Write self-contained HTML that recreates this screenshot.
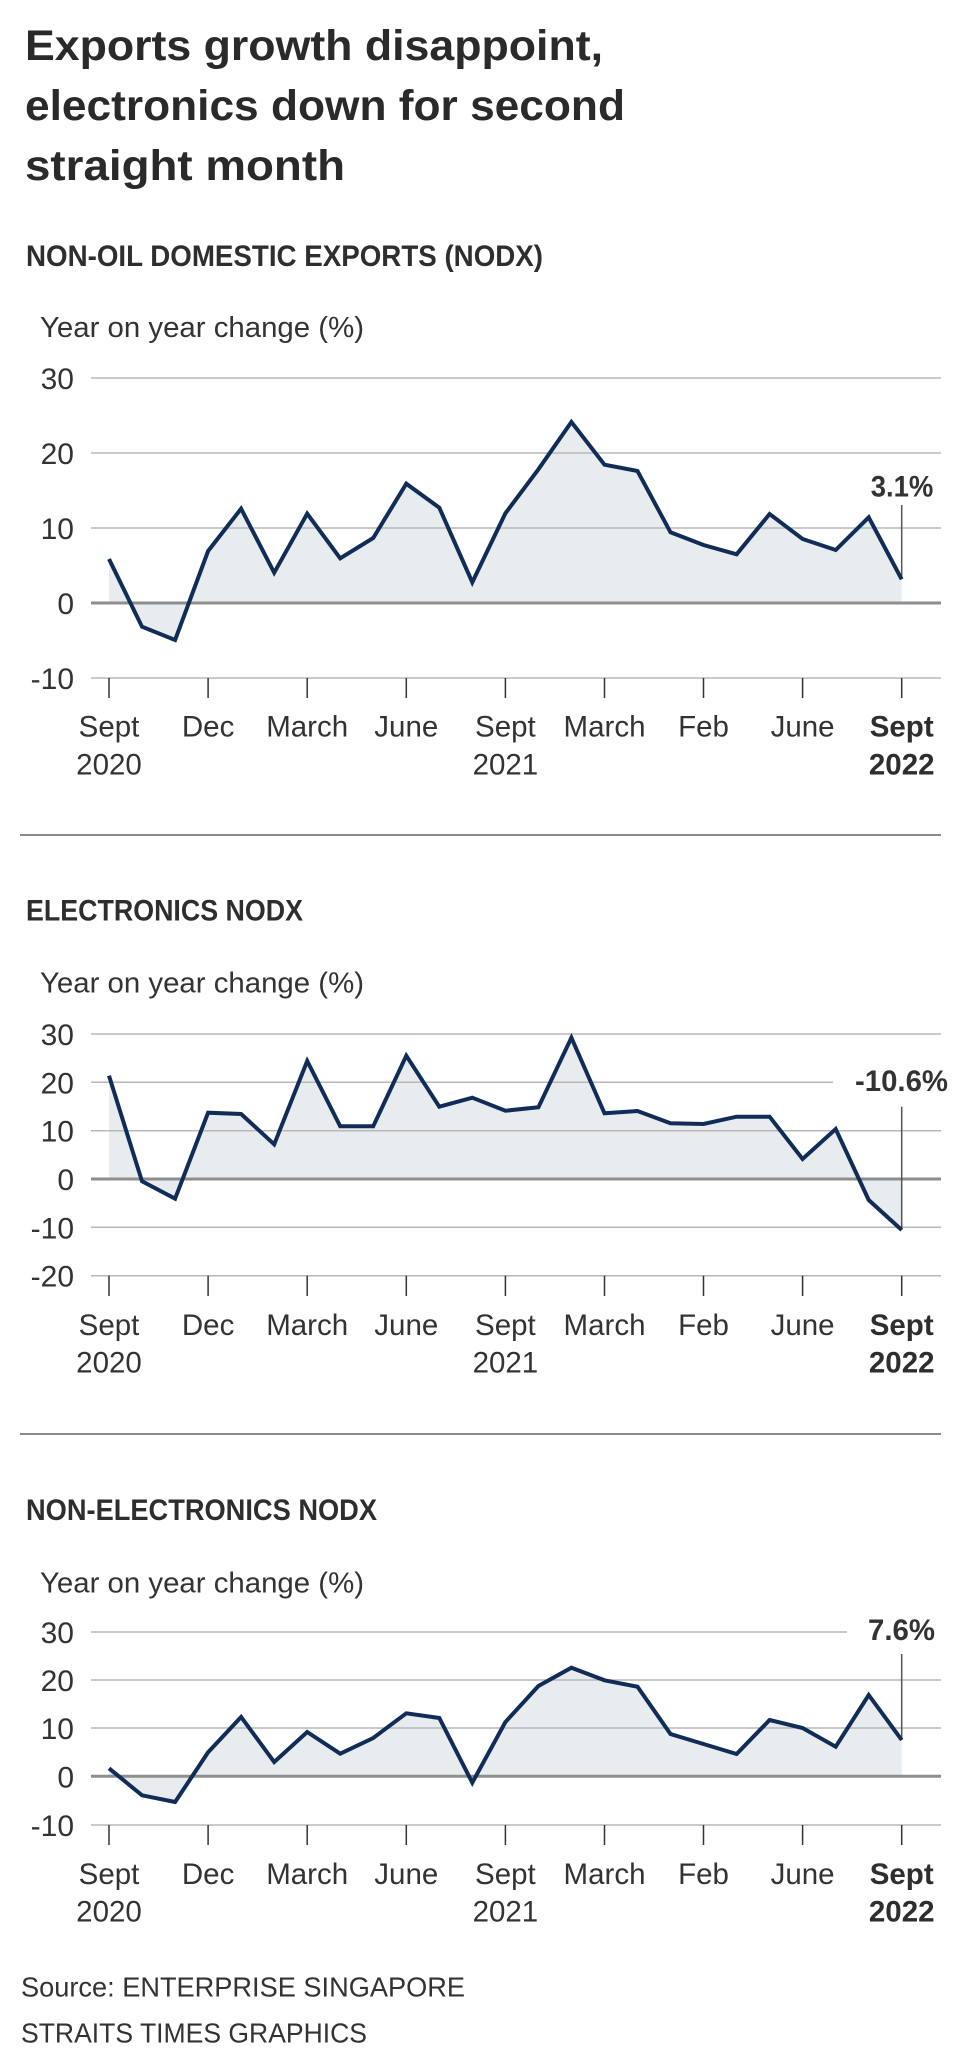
<!DOCTYPE html>
<html>
<head>
<meta charset="utf-8">
<style>
  html,body{margin:0;padding:0;background:#fff;}
  svg{display:block;}
  text{font-family:"Liberation Sans", Arial, sans-serif;fill:#333;}
  .t{font-weight:bold;font-size:43px;fill:#2a2a2a;}
  .h{font-weight:bold;font-size:30px;fill:#2e2e2e;}
  .yl{font-size:29px;fill:#333;}
  .lab{font-size:30px;fill:#333;text-anchor:end;}
  .xl{font-size:29.5px;fill:#333;text-anchor:middle;}
  .xb{font-size:29.5px;fill:#2e2e2e;text-anchor:middle;font-weight:bold;}
  .ann{font-size:30px;font-weight:bold;fill:#333;}
  .foot{font-size:28px;fill:#333;}
  .g{stroke:#b8b8b8;stroke-width:1.5;}
  .z{stroke:#8e8e8e;stroke-width:3;}
  .tk{stroke:#333;stroke-width:1.5;}
  .fill{fill:#e8ecee;stroke:none;}
  .ln{fill:none;stroke:#102c57;stroke-width:4;stroke-linejoin:miter;stroke-miterlimit:6;}
  .al{stroke:#555;stroke-width:1.5;}
  .div{stroke:#8a8a8a;stroke-width:2;}
</style>
</head>
<body>
<svg width="960" height="2070" viewBox="0 0 960 2070" xmlns="http://www.w3.org/2000/svg">
  <rect x="0" y="0" width="960" height="2070" fill="#fff"/>

  <!-- Title -->
  <text class="t" x="25" y="60" textLength="578" lengthAdjust="spacingAndGlyphs">Exports growth disappoint,</text>
  <text class="t" x="25" y="120" textLength="600" lengthAdjust="spacingAndGlyphs">electronics down for second</text>
  <text class="t" x="25" y="180" textLength="320" lengthAdjust="spacingAndGlyphs">straight month</text>

  <!-- ============ CHART 1 ============ -->
  <text class="h" x="26" y="266" textLength="517" lengthAdjust="spacingAndGlyphs">NON-OIL DOMESTIC EXPORTS (NODX)</text>
  <text class="yl" x="40" y="337" textLength="324" lengthAdjust="spacingAndGlyphs">Year on year change (%)</text>

  <polygon class="fill" points="109,602.7 109,559 142,626.7 175.1,640 208.1,551 241.1,508.7 274.2,572.7 307.2,513.7 340.2,558.3 373.2,538 406.3,483.7 439.3,507.7 472.3,582.3 505.4,513.3 538.4,469.3 571.4,422 604.5,464.7 637.5,471 670.5,532.3 703.5,545 736.6,554.3 769.6,514 802.6,539 835.7,550 868.7,517.3 901.7,579.3 901.7,602.7"/>

  <line class="g" x1="91" y1="378" x2="941" y2="378"/>
  <line class="g" x1="91" y1="453" x2="941" y2="453"/>
  <line class="g" x1="91" y1="528" x2="941" y2="528"/>
  <line class="g" x1="91" y1="678" x2="941" y2="678"/>
  <line class="z" x1="91" y1="603" x2="941" y2="603"/>

  <text class="lab" x="74" y="389">30</text>
  <text class="lab" x="74" y="464">20</text>
  <text class="lab" x="74" y="539">10</text>
  <text class="lab" x="74" y="614">0</text>
  <text class="lab" x="74" y="689">-10</text>

  <g class="tk">
    <line x1="109" y1="678" x2="109" y2="698"/>
    <line x1="208.1" y1="678" x2="208.1" y2="698"/>
    <line x1="307.2" y1="678" x2="307.2" y2="698"/>
    <line x1="406.3" y1="678" x2="406.3" y2="698"/>
    <line x1="505.4" y1="678" x2="505.4" y2="698"/>
    <line x1="604.5" y1="678" x2="604.5" y2="698"/>
    <line x1="703.5" y1="678" x2="703.5" y2="698"/>
    <line x1="802.6" y1="678" x2="802.6" y2="698"/>
    <line x1="901.7" y1="678" x2="901.7" y2="698"/>
  </g>

  <line class="al" x1="901.7" y1="505" x2="901.7" y2="579"/>
  <polyline class="ln" points="109,559 142,626.7 175.1,640 208.1,551 241.1,508.7 274.2,572.7 307.2,513.7 340.2,558.3 373.2,538 406.3,483.7 439.3,507.7 472.3,582.3 505.4,513.3 538.4,469.3 571.4,422 604.5,464.7 637.5,471 670.5,532.3 703.5,545 736.6,554.3 769.6,514 802.6,539 835.7,550 868.7,517.3 901.7,579.3"/>
  <text class="ann" x="870.7" y="496.7" textLength="62.6" lengthAdjust="spacingAndGlyphs">3.1%</text>

  <text class="xl" x="109" y="736.7">Sept</text>
  <text class="xl" x="109" y="774.3">2020</text>
  <text class="xl" x="208.1" y="736.7">Dec</text>
  <text class="xl" x="307.2" y="736.7">March</text>
  <text class="xl" x="406.3" y="736.7">June</text>
  <text class="xl" x="505.4" y="736.7">Sept</text>
  <text class="xl" x="505.4" y="774.3">2021</text>
  <text class="xl" x="604.5" y="736.7">March</text>
  <text class="xl" x="703.5" y="736.7">Feb</text>
  <text class="xl" x="802.6" y="736.7">June</text>
  <text class="xb" x="901.7" y="736.7">Sept</text>
  <text class="xb" x="901.7" y="774.3">2022</text>

  <line class="div" x1="20" y1="835" x2="941" y2="835"/>

  <!-- ============ CHART 2 ============ -->
  <text class="h" x="26" y="920.7" textLength="277" lengthAdjust="spacingAndGlyphs">ELECTRONICS NODX</text>
  <text class="yl" x="40" y="992.3" textLength="324" lengthAdjust="spacingAndGlyphs">Year on year change (%)</text>

  <polygon class="fill" points="109,1179 109,1075.7 142,1181.3 175.1,1198.7 208.1,1112.7 241.1,1114 274.2,1144.3 307.2,1061 340.2,1126.3 373.2,1126.3 406.3,1055.7 439.3,1106.7 472.3,1097.7 505.4,1110.7 538.4,1107.3 571.4,1037.7 604.5,1113.3 637.5,1111 670.5,1123.3 703.5,1124 736.6,1116.7 769.6,1116.7 802.6,1159 835.7,1129 868.7,1200 901.7,1230 901.7,1179"/>

  <line class="g" x1="91" y1="1034" x2="941" y2="1034"/>
  <line class="g" x1="91" y1="1082.3" x2="833" y2="1082.3"/>
  <line class="g" x1="91" y1="1130.7" x2="941" y2="1130.7"/>
  <line class="g" x1="91" y1="1227.3" x2="941" y2="1227.3"/>
  <line class="g" x1="91" y1="1275.7" x2="941" y2="1275.7"/>
  <line class="z" x1="91" y1="1179" x2="941" y2="1179"/>

  <text class="lab" x="74" y="1045">30</text>
  <text class="lab" x="74" y="1093.3">20</text>
  <text class="lab" x="74" y="1141.7">10</text>
  <text class="lab" x="74" y="1190">0</text>
  <text class="lab" x="74" y="1238.3">-10</text>
  <text class="lab" x="74" y="1286.7">-20</text>

  <g class="tk">
    <line x1="109" y1="1275.7" x2="109" y2="1296"/>
    <line x1="208.1" y1="1275.7" x2="208.1" y2="1296"/>
    <line x1="307.2" y1="1275.7" x2="307.2" y2="1296"/>
    <line x1="406.3" y1="1275.7" x2="406.3" y2="1296"/>
    <line x1="505.4" y1="1275.7" x2="505.4" y2="1296"/>
    <line x1="604.5" y1="1275.7" x2="604.5" y2="1296"/>
    <line x1="703.5" y1="1275.7" x2="703.5" y2="1296"/>
    <line x1="802.6" y1="1275.7" x2="802.6" y2="1296"/>
    <line x1="901.7" y1="1275.7" x2="901.7" y2="1296"/>
  </g>

  <line class="al" x1="901.7" y1="1106.7" x2="901.7" y2="1230"/>
  <polyline class="ln" points="109,1075.7 142,1181.3 175.1,1198.7 208.1,1112.7 241.1,1114 274.2,1144.3 307.2,1061 340.2,1126.3 373.2,1126.3 406.3,1055.7 439.3,1106.7 472.3,1097.7 505.4,1110.7 538.4,1107.3 571.4,1037.7 604.5,1113.3 637.5,1111 670.5,1123.3 703.5,1124 736.6,1116.7 769.6,1116.7 802.6,1159 835.7,1129 868.7,1200 901.7,1230"/>
  <text class="ann" x="855" y="1091" textLength="93" lengthAdjust="spacingAndGlyphs">-10.6%</text>

  <text class="xl" x="109" y="1335">Sept</text>
  <text class="xl" x="109" y="1372.7">2020</text>
  <text class="xl" x="208.1" y="1335">Dec</text>
  <text class="xl" x="307.2" y="1335">March</text>
  <text class="xl" x="406.3" y="1335">June</text>
  <text class="xl" x="505.4" y="1335">Sept</text>
  <text class="xl" x="505.4" y="1372.7">2021</text>
  <text class="xl" x="604.5" y="1335">March</text>
  <text class="xl" x="703.5" y="1335">Feb</text>
  <text class="xl" x="802.6" y="1335">June</text>
  <text class="xb" x="901.7" y="1335">Sept</text>
  <text class="xb" x="901.7" y="1372.7">2022</text>

  <line class="div" x1="20" y1="1434" x2="941" y2="1434"/>

  <!-- ============ CHART 3 ============ -->
  <text class="h" x="26" y="1520" textLength="351" lengthAdjust="spacingAndGlyphs">NON-ELECTRONICS NODX</text>
  <text class="yl" x="40" y="1592.3" textLength="324" lengthAdjust="spacingAndGlyphs">Year on year change (%)</text>

  <polygon class="fill" points="109,1776.3 109,1768.3 142,1795.3 175.1,1802 208.1,1752.3 241.1,1717 274.2,1762 307.2,1732 340.2,1753.7 373.2,1738 406.3,1713.3 439.3,1718 472.3,1782.7 505.4,1722 538.4,1686 571.4,1667.7 604.5,1680.3 637.5,1686.7 670.5,1734 703.5,1744 736.6,1754 769.6,1720 802.6,1728 835.7,1746.7 868.7,1695 901.7,1740 901.7,1776.3"/>

  <line class="g" x1="91" y1="1632" x2="847" y2="1632"/>
  <line class="g" x1="91" y1="1680" x2="941" y2="1680"/>
  <line class="g" x1="91" y1="1728" x2="941" y2="1728"/>
  <line class="g" x1="91" y1="1825" x2="941" y2="1825"/>
  <line class="z" x1="91" y1="1776.3" x2="941" y2="1776.3"/>

  <text class="lab" x="74" y="1643">30</text>
  <text class="lab" x="74" y="1691">20</text>
  <text class="lab" x="74" y="1739">10</text>
  <text class="lab" x="74" y="1787.3">0</text>
  <text class="lab" x="74" y="1836">-10</text>

  <g class="tk">
    <line x1="109" y1="1825" x2="109" y2="1845"/>
    <line x1="208.1" y1="1825" x2="208.1" y2="1845"/>
    <line x1="307.2" y1="1825" x2="307.2" y2="1845"/>
    <line x1="406.3" y1="1825" x2="406.3" y2="1845"/>
    <line x1="505.4" y1="1825" x2="505.4" y2="1845"/>
    <line x1="604.5" y1="1825" x2="604.5" y2="1845"/>
    <line x1="703.5" y1="1825" x2="703.5" y2="1845"/>
    <line x1="802.6" y1="1825" x2="802.6" y2="1845"/>
    <line x1="901.7" y1="1825" x2="901.7" y2="1845"/>
  </g>

  <line class="al" x1="901.7" y1="1654" x2="901.7" y2="1740"/>
  <polyline class="ln" points="109,1768.3 142,1795.3 175.1,1802 208.1,1752.3 241.1,1717 274.2,1762 307.2,1732 340.2,1753.7 373.2,1738 406.3,1713.3 439.3,1718 472.3,1782.7 505.4,1722 538.4,1686 571.4,1667.7 604.5,1680.3 637.5,1686.7 670.5,1734 703.5,1744 736.6,1754 769.6,1720 802.6,1728 835.7,1746.7 868.7,1695 901.7,1740"/>
  <text class="ann" x="868" y="1640" textLength="67" lengthAdjust="spacingAndGlyphs">7.6%</text>

  <text class="xl" x="109" y="1884">Sept</text>
  <text class="xl" x="109" y="1921.7">2020</text>
  <text class="xl" x="208.1" y="1884">Dec</text>
  <text class="xl" x="307.2" y="1884">March</text>
  <text class="xl" x="406.3" y="1884">June</text>
  <text class="xl" x="505.4" y="1884">Sept</text>
  <text class="xl" x="505.4" y="1921.7">2021</text>
  <text class="xl" x="604.5" y="1884">March</text>
  <text class="xl" x="703.5" y="1884">Feb</text>
  <text class="xl" x="802.6" y="1884">June</text>
  <text class="xb" x="901.7" y="1884">Sept</text>
  <text class="xb" x="901.7" y="1921.7">2022</text>

  <!-- Footer -->
  <text class="foot" x="21" y="1996.7" textLength="444" lengthAdjust="spacingAndGlyphs">Source: ENTERPRISE SINGAPORE</text>
  <text class="foot" x="21" y="2042.7" textLength="346" lengthAdjust="spacingAndGlyphs">STRAITS TIMES GRAPHICS</text>
</svg>
</body>
</html>
